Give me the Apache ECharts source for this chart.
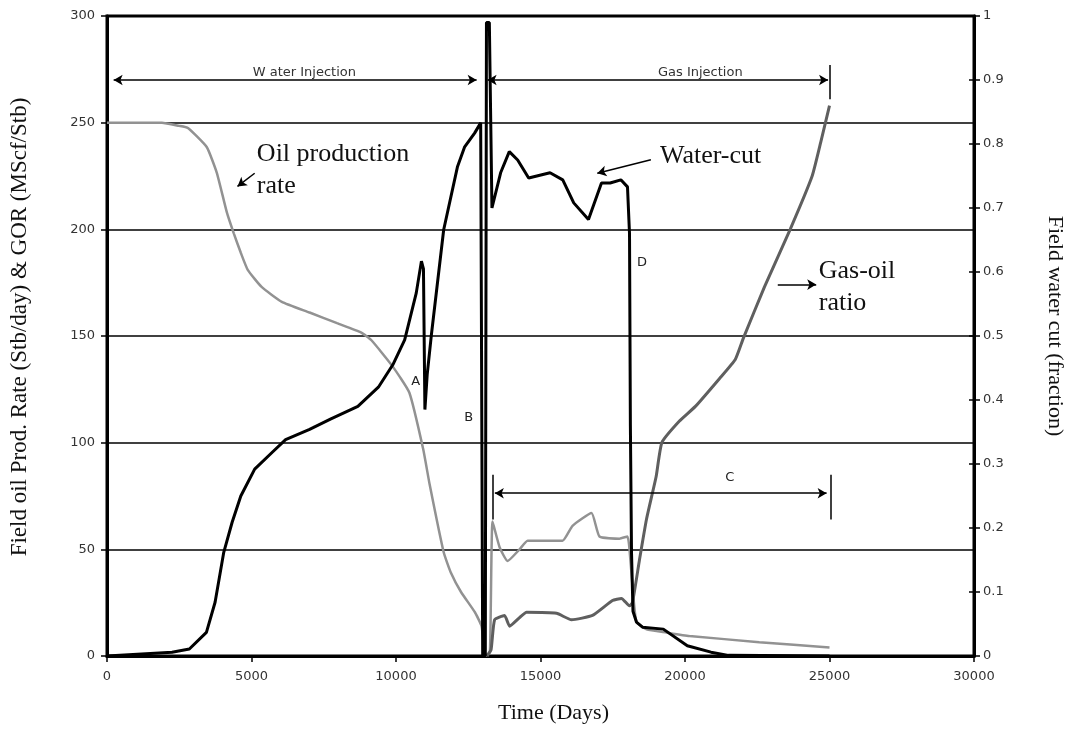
<!DOCTYPE html>
<html>
<head>
<meta charset="utf-8">
<script src="https://cdn.jsdelivr.net/npm/echarts@6/dist/echarts.min.js"></script>
<style>html,body{margin:0;padding:0;background:#fff}#c{width:1074px;height:729px}</style>
</head>
<body>
<div id="c"></div>
<script>
// ---- data ----
const xTicks = [0, 5000, 10000, 15000, 20000, 25000, 30000];

const oilT = [0,1900,2490,2800,3450,3800,4150,4390,4630,4870,5350,6050,7010,7960,8800,9150,9870,10460,10940,11170,11650,11900,12250,12730,12960,13100,13250,13340,13585,13861,14276,14553,14967,15762,16108,16765,17041,17733,18009,18080,18200,18320,18670,19360,20150,22570,25000];
const oilV = [250,250,248.5,247.5,238.6,226.5,207.8,198,189,181,173,166,161,156,151.6,148,136,123.5,97,80,48.6,39,30,20.5,14,0,2,63,51,44.5,50,54,54,54,61,67,56,55,56,50,30,16,12.5,11,9.4,6.5,4];

const gorT = [13150,13290,13412,13758,13930,14276,14518,15555,16073,16799,17490,17801,18078,18182,18424,18666,19000,19200,19800,20360,21190,21740,22020,22750,23640,24400,24700,25000];
const gorV = [0,3,17,19,14,18,20.5,20,17,19,26,27,23.5,25,45,64,84,100,110,117,130,139,149,173,200,225,241,258];

const wcT = [0,2250,2850,3440,3740,4040,4330,4630,5110,5710,6180,7010,7730,8680,9390,9890,10300,10700,10880,10950,11000,11080,11220,11650,12130,12370,12720,12930,13000,13090,13130,13230,13320,13620,13920,14210,14590,15330,15770,16150,16660,17110,17410,17780,18010,18080,18110,18150,18200,18320,18530,19250,20080,20900,21500,25000];
const wcV = [0,0.006,0.011,0.037,0.084,0.162,0.209,0.25,0.292,0.318,0.338,0.354,0.37,0.39,0.42,0.455,0.494,0.567,0.617,0.605,0.385,0.44,0.5,0.666,0.765,0.795,0.817,0.833,0,0,0.99,0.99,0.70,0.755,0.788,0.775,0.747,0.755,0.744,0.708,0.682,0.739,0.739,0.744,0.733,0.66,0.36,0.16,0.07,0.053,0.045,0.042,0.016,0.006,0.001,0];

// annotation texts (data coordinates on left axis)
const letterLabels = [['A',10680,128.8],['B',12520,111.7],['C',21550,83.8],['D',18510,184.2]];
const phaseLabels = [['W ater Injection',6830,273.5],['Gas Injection',20530,273.5]];
const bigLabels = [['Oil production',5168,235.4],['rate',5168,220.4],['Water-cut',19115,234.4],['Gas-oil',24610,180.6],['ratio',24610,165.2]];
// arrows: [x1,y1,x2,y2,startSymbol,endSymbol]
const arrows = [
  [230,270,12790,270,'arrow','arrow'],
  [13170,270,24950,270,'arrow','arrow'],
  [13420,76.3,24900,76.3,'arrow','arrow'],
  [5109,226.3,4515,220.1,'none','arrow'],
  [18820,232.6,16965,226.3,'none','arrow'],
  [23210,174.1,24540,174.1,'none','arrow']
];
// plain vertical bars
const bars = [[25000,261,25000,277],[13350,64,13350,85],[25060,64,25060,85]];

const pairs = (T,V) => T.map((t,i)=>[t,V[i]]);

const markLines = arrows.map(a => [
  {coord:[a[0],a[1]], symbol:a[4], symbolSize:[8,9]},
  {coord:[a[2],a[3]], symbol:a[5], symbolSize:[8,9]}
]).concat(bars.map(b => [
  {coord:[b[0],b[1]], symbol:'none'},
  {coord:[b[2],b[3]], symbol:'none'}
]));

const textPts = [];
letterLabels.forEach(l => textPts.push({coord:[l[1],l[2]], label:{formatter:l[0], position:'inside', fontFamily:'DejaVu Sans', fontSize:13, color:'#222'}}));
phaseLabels.forEach(l => textPts.push({coord:[l[1],l[2]], label:{formatter:l[0], position:'inside', fontFamily:'DejaVu Sans', fontSize:13, color:'#333'}}));
bigLabels.forEach(l => textPts.push({coord:[l[1],l[2]], label:{formatter:l[0], position:'right', distance:0, align:'left', fontFamily:'Liberation Serif', fontSize:26, color:'#111'}}));

const tickLabel = {fontFamily:'DejaVu Sans', fontSize:13, color:'#333'};
const titleFont = {fontFamily:'Liberation Serif', fontSize:22, color:'#111'};

const chart = echarts.init(document.getElementById('c'));
chart.setOption({
  animation:false,
  backgroundColor:'#fff',
  grid:{left:107, right:96, top:16, bottom:72, show:true, borderColor:'#000', borderWidth:3},
  xAxis:{
    type:'value', min:xTicks[0], max:xTicks[xTicks.length-1], interval:5000,
    name:'Time (Days)', nameLocation:'middle', nameGap:46,
    nameTextStyle:Object.assign({padding:[0,0,0,26]}, titleFont),
    axisLine:{show:true, lineStyle:{color:'#000', width:3}},
    axisTick:{show:true, length:6, lineStyle:{color:'#000', width:1.5}},
    axisLabel:Object.assign({margin:14, formatter:v=>String(v)}, tickLabel),
    splitLine:{show:false}
  },
  yAxis:[{
    type:'value', min:0, max:300, interval:50, position:'left',
    name:'Field oil Prod. Rate (Stb/day) & GOR (MScf/Stb)', nameLocation:'middle', nameGap:76,
    nameTextStyle:Object.assign({}, titleFont, {fontSize:23, padding:[0,0,0,18]}),
    axisLine:{show:true, lineStyle:{color:'#000', width:3}},
    axisTick:{show:true, length:6, lineStyle:{color:'#000', width:1.5}},
    axisLabel:Object.assign({margin:12}, tickLabel),
    splitLine:{show:true, lineStyle:{color:'#000', width:1.5}}
  },{
    type:'value', min:0, max:1, interval:0.1, position:'right',
    name:'Field water cut (fraction)', nameLocation:'middle', nameGap:70, nameRotate:-90,
    nameTextStyle:Object.assign({padding:[0,20,0,0]}, titleFont),
    axisLine:{show:true, lineStyle:{color:'#000', width:3}},
    axisTick:{show:true, length:6, lineStyle:{color:'#000', width:1.5}},
    axisLabel:Object.assign({margin:9}, tickLabel),
    splitLine:{show:false}
  },{
    type:'value', min:0, max:1, interval:0.1, position:'right',
    axisLine:{show:false}, axisLabel:{show:false}, splitLine:{show:false},
    axisTick:{show:true, inside:true, length:5, lineStyle:{color:'#000', width:1.5}}
  }],
  series:[
    {name:'Oil production rate', type:'line', yAxisIndex:0, data:pairs(oilT,oilV), showSymbol:false, symbol:'none',
     smooth:0.15,
     lineStyle:{color:'#929292', width:2.5}, z:3,
     markLine:{silent:true, animation:false, label:{show:false}, lineStyle:{color:'#000', width:1.5, type:'solid'}, data:markLines},
     markPoint:{silent:true, animation:false, symbol:'circle', symbolSize:1, itemStyle:{color:'rgba(0,0,0,0)'}, data:textPts}
    },
    {name:'Gas-oil ratio', type:'line', yAxisIndex:0, data:pairs(gorT,gorV), showSymbol:false, symbol:'none',
     smooth:0.15,
     lineStyle:{color:'#5f5f5f', width:3}, z:3},
    {name:'Water-cut', type:'line', yAxisIndex:1, data:pairs(wcT,wcV), showSymbol:false, symbol:'none',
     lineStyle:{color:'#000', width:3}, z:4}
  ]
});
</script>
</body>
</html>
